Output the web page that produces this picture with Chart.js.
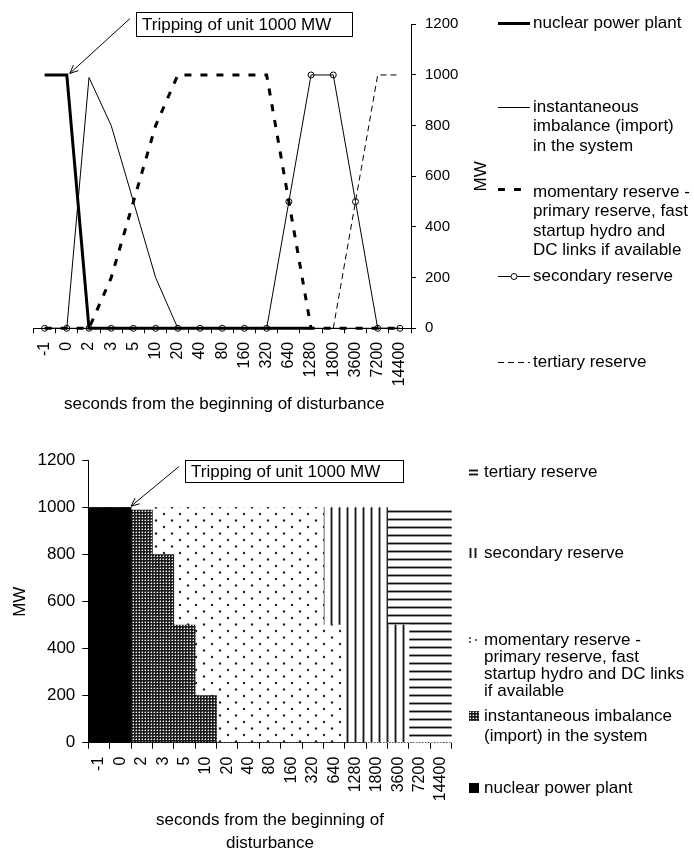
<!DOCTYPE html>
<html>
<head>
<meta charset="utf-8">
<title>Reserves after tripping of a 1000 MW unit</title>
<script src="https://cdn.jsdelivr.net/npm/chart.js@4.4.1/dist/chart.umd.min.js"></script>
<style>
  html, body { margin: 0; padding: 0; background: #fff; }
  #wrap { position: relative; width: 694px; height: 850px; overflow: hidden; }
  canvas { position: absolute; left: 0; }
  #lineChart { top: 0; }
  #barChart { top: 420px; }
</style>
</head>
<body>
<div id="wrap">
  <canvas id="lineChart" width="694" height="420"></canvas>
  <canvas id="barChart" width="694" height="430"></canvas>
</div>
<script>
const FONT = '"Liberation Sans", Arial, Helvetica, sans-serif';

// Seconds from the beginning of the disturbance (category axis)
const seconds = ['-1', '0', '2', '3', '5', '10', '20', '40', '80', '160', '320',
                 '640', '1280', '1800', '3600', '7200', '14400'];

// Power of each contributor, MW
const nuclearPlant     = [1000, 1000, 0, 0, 0, 0, 0, 0, 0, 0, 0, 0, 0, null, null, null, null];
const importImbalance  = [0, 0, 990, 800, 500, 200, 0, 0, 0, 0, 0, 0, 0, 0, 0, 0, 0];
const momentaryReserve = [0, 0, 0, 200, 500, 800, 1000, 1000, 1000, 1000, 1000, 500, 0, 0, 0, 0, 0];
const secondaryReserve = [0, 0, 0, 0, 0, 0, 0, 0, 0, 0, 0, 500, 1000, 1000, 500, 0, 0];
const tertiaryReserve  = [null, null, null, null, null, null, null, null, null, null, null,
                          null, null, 0, 500, 1000, 1000];

// Value axis ticks, MW
const mwTicks = [0, 200, 400, 600, 800, 1000, 1200];

const axisTitleX = 'seconds from the beginning of disturbance';
const axisTitleY = 'MW';
const noteText = 'Tripping of unit 1000 MW';

// Legend wording (line breaks as laid out beside each chart)
const lineLegendText = [
  ['nuclear power plant'],
  ['instantaneous', 'imbalance (import)', 'in the system'],
  ['momentary reserve -', 'primary reserve, fast', 'startup hydro and', 'DC links if available'],
  ['secondary reserve'],
  ['tertiary reserve']
];
const barLegendText = [
  ['nuclear power plant'],
  ['instantaneous imbalance', '(import) in the system'],
  ['momentary reserve -', 'primary reserve, fast', 'startup hydro and DC links', 'if available'],
  ['secondary reserve'],
  ['tertiary reserve']
];
const seriesNames = ['nuclear power plant', 'instantaneous imbalance (import) in the system',
  'momentary reserve - primary reserve, fast startup hydro and DC links if available',
  'secondary reserve', 'tertiary reserve'];

const plainNumber = v => String(v);

// ---------- helpers ----------
function drawArrow(ctx, x0, y0, x1, y1) {
  ctx.beginPath();
  ctx.moveTo(x0, y0);
  ctx.lineTo(x1, y1);
  ctx.stroke();
  const a = Math.atan2(y1 - y0, x1 - x0), L = 9, s = 0.42;
  ctx.beginPath();
  ctx.moveTo(x1 - L * Math.cos(a - s), y1 - L * Math.sin(a - s));
  ctx.lineTo(x1, y1);
  ctx.lineTo(x1 - L * Math.cos(a + s), y1 - L * Math.sin(a + s));
  ctx.stroke();
}

function drawNote(ctx, box, tip) {
  ctx.save();
  ctx.fillStyle = '#fff';
  ctx.fillRect(box.x, box.y, box.w, box.h);
  ctx.strokeStyle = '#000';
  ctx.lineWidth = 1;
  ctx.strokeRect(box.x + 0.5, box.y + 0.5, box.w, box.h);
  ctx.fillStyle = '#000';
  ctx.font = '17px ' + FONT;
  ctx.textAlign = 'left';
  ctx.textBaseline = 'middle';
  ctx.fillText(noteText, box.x + 6, box.y + box.h / 2 + 1);
  drawArrow(ctx, box.x - 6, box.y + 6.5, tip.x, tip.y);
  ctx.restore();
}

function rotatedText(ctx, text, x, y) {
  ctx.save();
  ctx.translate(x, y);
  ctx.rotate(-Math.PI / 2);
  ctx.textAlign = 'center';
  ctx.textBaseline = 'middle';
  ctx.fillText(text, 0, 0);
  ctx.restore();
}

// ---------- line chart ----------
const lineDecor = {
  id: 'lineDecor',
  afterDraw(chart) {
    const { ctx, chartArea, scales: { x, y } } = chart;
    ctx.save();
    ctx.fillStyle = '#000';
    ctx.strokeStyle = '#000';
    ctx.font = '17px ' + FONT;

    // axis titles
    rotatedText(ctx, axisTitleY, 481, (chartArea.top + chartArea.bottom) / 2);
    ctx.textAlign = 'center';
    ctx.textBaseline = 'middle';
    ctx.fillText(axisTitleX, (chartArea.left + chartArea.right) / 2 + 2, 404);

    // note with arrow to the tripping point
    drawNote(ctx, { x: 136, y: 12, w: 216, h: 24 },
      { x: x.getPixelForValue(1) + 3, y: y.getPixelForValue(nuclearPlant[1]) - 1.5 });

    // legend
    const rows = [23, 107, 192, 276, 362];
    const sampleY = [23, 107, 189, 276, 362];
    const step = 19.5;
    ctx.textAlign = 'left';
    ctx.textBaseline = 'middle';
    chart.data.datasets.forEach((ds, i) => {
      const sy = Math.round(sampleY[i]) + (ds.borderWidth % 2 ? 0.5 : 0);
      ctx.save();
      ctx.lineWidth = ds.borderWidth;
      ctx.setLineDash(ds.borderDash || []);
      ctx.beginPath();
      ctx.moveTo(498, sy);
      ctx.lineTo(530, sy);
      ctx.stroke();
      ctx.setLineDash([]);
      if (ds.pointRadius > 0) {
        ctx.lineWidth = 1;
        ctx.beginPath();
        ctx.arc(514, sy, ds.pointRadius, 0, Math.PI * 2);
        ctx.fillStyle = '#fff';
        ctx.fill();
        ctx.stroke();
      }
      ctx.restore();
      lineLegendText[i].forEach((t, k) => ctx.fillText(t, 533, rows[i] + k * step));
    });
    ctx.restore();
  }
};

function lineSet(label, data, width, dash, points) {
  return {
    label, data,
    borderColor: '#000',
    borderWidth: width,
    borderDash: dash,
    tension: 0,
    fill: false,
    clip: false,
    spanGaps: false,
    pointRadius: points ? 3 : 0,
    pointStyle: 'circle',
    pointBorderColor: '#000',
    pointBorderWidth: 1,
    pointBackgroundColor: 'rgba(0,0,0,0)'
  };
}

new Chart(document.getElementById('lineChart'), {
  type: 'line',
  data: {
    labels: seconds,
    datasets: [
      lineSet(seriesNames[0], nuclearPlant, 3, [], false),
      lineSet(seriesNames[1], importImbalance, 1, [], false),
      lineSet(seriesNames[2], momentaryReserve, 3, [7, 9], false),
      lineSet(seriesNames[3], secondaryReserve, 1, [], true),
      lineSet(seriesNames[4], tertiaryReserve, 1, [6, 4], false)
    ]
  },
  options: {
    responsive: false,
    animation: false,
    events: [],
    layout: { padding: { left: 33.5, top: 24.3, right: 0, bottom: 0 } },
    plugins: { legend: { display: false }, tooltip: { enabled: false } },
    scales: {
      x: {
        type: 'category',
        offset: true,
        grid: { offset: true, drawOnChartArea: false, drawTicks: true, tickLength: 5, color: '#000', lineWidth: 1 },
        border: { display: true, color: '#000', width: 1 },
        ticks: { color: '#000', font: { family: FONT, size: 16 }, minRotation: 90, maxRotation: 90,
                 autoSkip: false, padding: 8.5 },
        afterFit: s => { s.height = 91.7; }
      },
      y: {
        position: 'right',
        min: mwTicks[0],
        max: mwTicks[mwTicks.length - 1],
        ticks: { stepSize: mwTicks[1] - mwTicks[0], color: '#000', font: { family: FONT, size: 15 },
                 padding: 9, callback: plainNumber },
        grid: { drawOnChartArea: false, drawTicks: true, tickLength: 5, color: '#000', lineWidth: 1 },
        border: { display: true, color: '#000', width: 1 },
        afterFit: s => { s.width = 283; }
      }
    }
  },
  plugins: [lineDecor]
});

// ---------- stacked bar chart ----------
const barCtx = document.getElementById('barChart').getContext('2d');

function tile(w, h, paint) {
  const c = document.createElement('canvas');
  c.width = w; c.height = h;
  paint(c.getContext('2d'), w, h);
  return barCtx.createPattern(c, 'repeat');
}

const fillNuclear = '#000';
const fillImbalance = tile(3, 3, (g) => {
  g.fillStyle = '#1c1c1c'; g.fillRect(0, 0, 3, 3);
  g.fillStyle = '#808080'; g.fillRect(1, 0, 1, 1); g.fillRect(0, 1, 1, 1);
  g.fillStyle = '#f4f4f4'; g.fillRect(1, 1, 1, 1);
});
const fillMomentary = tile(16, 13, (g) => {
  g.fillStyle = '#fff'; g.fillRect(0, 0, 16, 13);
  g.fillStyle = '#222';
  g.beginPath(); g.arc(4, 3, 1.2, 0, Math.PI * 2); g.fill();
  g.beginPath(); g.arc(12, 9.5, 1.2, 0, Math.PI * 2); g.fill();
});
const fillSecondary = tile(8, 1, (g) => {
  g.fillStyle = '#fff'; g.fillRect(0, 0, 8, 1);
  g.fillStyle = '#9a9a9a'; g.fillRect(2, 0, 1, 1); g.fillRect(4, 0, 1, 1);
  g.fillStyle = '#1a1a1a'; g.fillRect(3, 0, 1, 1);
});
const fillTertiary = tile(1, 8, (g) => {
  g.fillStyle = '#fff'; g.fillRect(0, 0, 1, 8);
  g.fillStyle = '#9a9a9a'; g.fillRect(0, 2, 1, 1); g.fillRect(0, 4, 1, 1);
  g.fillStyle = '#111'; g.fillRect(0, 3, 1, 1);
});

// small legend keys, one per series (bottom of the stack first)
const legendKeys = [
  (ctx, x, y) => { ctx.fillStyle = fillNuclear; ctx.fillRect(x, y, 10, 10); },
  (ctx, x, y) => {
    ctx.save(); ctx.translate(x, y); ctx.fillStyle = fillImbalance; ctx.fillRect(0, 0, 10, 10); ctx.restore();
  },
  (ctx, x, y) => {
    ctx.fillStyle = '#333';
    [[1, 3], [1, 7], [7, 5]].forEach(([dx, dy]) => {
      ctx.beginPath(); ctx.arc(x + dx, y + dy, 1, 0, Math.PI * 2); ctx.fill();
    });
  },
  (ctx, x, y) => {
    [1, 6].forEach(dx => {
      ctx.fillStyle = '#9a9a9a'; ctx.fillRect(x + dx - 1, y, 3, 10);
      ctx.fillStyle = '#1a1a1a'; ctx.fillRect(x + dx, y, 1, 10);
    });
  },
  (ctx, x, y) => {
    [2, 6].forEach(dy => {
      ctx.fillStyle = '#9a9a9a'; ctx.fillRect(x, y + dy - 1, 9, 3);
      ctx.fillStyle = '#111'; ctx.fillRect(x, y + dy, 9, 1);
    });
  }
];

const barDecor = {
  id: 'barDecor',
  afterDraw(chart) {
    const { ctx, chartArea, scales: { x, y } } = chart;
    ctx.save();
    ctx.fillStyle = '#000';
    ctx.strokeStyle = '#000';
    ctx.font = '17px ' + FONT;

    rotatedText(ctx, axisTitleY, 20, (chartArea.top + chartArea.bottom) / 2);
    ctx.textAlign = 'center';
    ctx.textBaseline = 'middle';
    const cx = (chartArea.left + chartArea.right) / 2;
    ctx.fillText('seconds from the beginning of', cx, 400);
    ctx.fillText('disturbance', cx, 423);

    const half = (x.getPixelForValue(1) - x.getPixelForValue(0)) / 2;
    drawNote(ctx, { x: 185, y: 40, w: 218, h: 22 },
      { x: x.getPixelForValue(1) + half, y: y.getPixelForValue(nuclearPlant[1]) - 1.5 });

    // legend, listed from the top of the stack down
    const rows = [368, 296, 220, 133, 52.7];
    const steps = [20, 20, 17.2, 20, 20];
    ctx.textAlign = 'left';
    ctx.textBaseline = 'middle';
    chart.data.datasets.forEach((ds, i) => {
      const top = Math.round(rows[i] - 5);
      ctx.save();
      legendKeys[i](ctx, 469, top);
      ctx.restore();
      ctx.fillStyle = '#000';
      barLegendText[i].forEach((t, k) => ctx.fillText(t, 484, rows[i] + k * steps[i]));
    });
    ctx.restore();
  }
};

function barSet(label, data, fill) {
  return { label, data, backgroundColor: fill, borderWidth: 0,
           categoryPercentage: 1.0, barPercentage: 1.0 };
}

new Chart(barCtx, {
  type: 'bar',
  data: {
    labels: seconds,
    datasets: [
      barSet(seriesNames[0], nuclearPlant, fillNuclear),
      barSet(seriesNames[1], importImbalance, fillImbalance),
      barSet(seriesNames[2], momentaryReserve, fillMomentary),
      barSet(seriesNames[3], secondaryReserve, fillSecondary),
      barSet(seriesNames[4], tertiaryReserve, fillTertiary)
    ]
  },
  options: {
    responsive: false,
    animation: false,
    events: [],
    layout: { padding: { left: 0, top: 40.7, right: 242.3, bottom: 0 } },
    plugins: { legend: { display: false }, tooltip: { enabled: false } },
    scales: {
      x: {
        stacked: true,
        grid: { offset: true, drawOnChartArea: false, drawTicks: true, tickLength: 6, color: '#000', lineWidth: 1 },
        border: { display: true, color: '#000', width: 1 },
        ticks: { color: '#000', font: { family: FONT, size: 16 }, minRotation: 90, maxRotation: 90,
                 autoSkip: false, padding: 8 },
        afterFit: s => { s.height = 107.3; }
      },
      y: {
        stacked: true,
        min: mwTicks[0],
        max: mwTicks[mwTicks.length - 1],
        ticks: { stepSize: mwTicks[1] - mwTicks[0], color: '#000', font: { family: FONT, size: 17 },
                 padding: 7, callback: plainNumber },
        grid: { drawOnChartArea: false, drawTicks: true, tickLength: 6, color: '#000', lineWidth: 1 },
        border: { display: true, color: '#000', width: 1 },
        afterFit: s => { s.width = 88.3; }
      }
    }
  },
  plugins: [barDecor]
});
</script>
</body>
</html>
